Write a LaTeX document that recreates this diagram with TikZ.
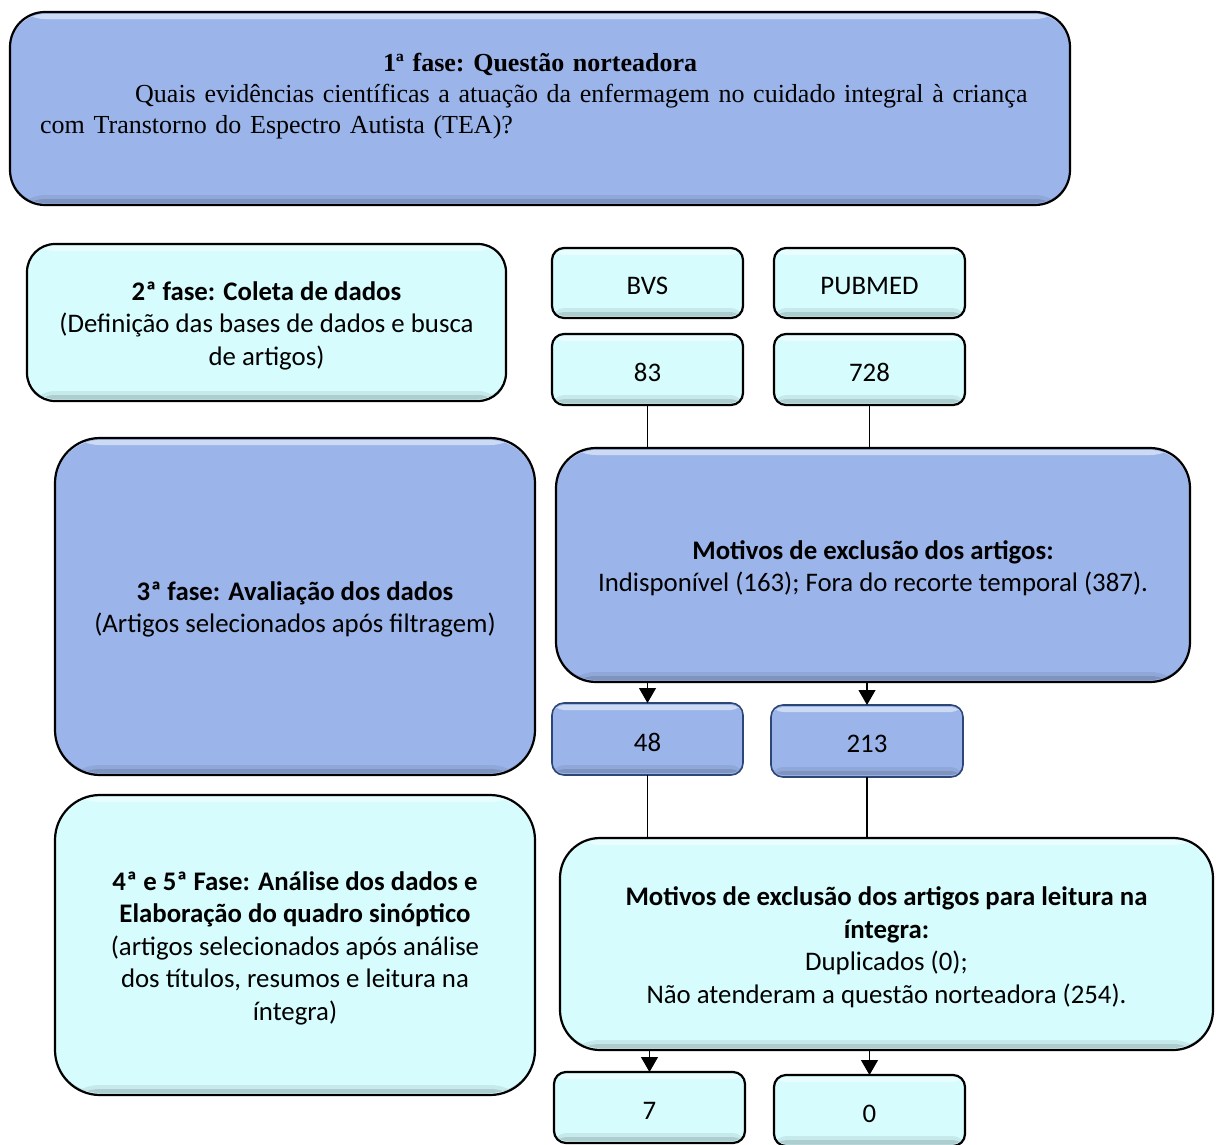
\documentclass[tikz,border=0pt]{standalone}
\usepackage{fontspec}
\setmainfont{Carlito}
\newfontfamily\serifff{Liberation Serif}
\usetikzlibrary{arrows.meta}
\definecolor{bluefill}{RGB}{155,181,234}
\definecolor{cyanfill}{RGB}{214,252,253}
\definecolor{darkblueline}{RGB}{45,70,120}
\tikzset{
  bevel/.style={path picture={
    \fill[white,opacity=.5] ([yshift=-2pt]path picture bounding box.north west) rectangle ([yshift=-7pt]path picture bounding box.north east);
    \fill[black,opacity=.07] ([yshift=2pt]path picture bounding box.south west) rectangle ([yshift=10pt]path picture bounding box.south east);
    \fill[black,opacity=.12] ([yshift=2pt]path picture bounding box.south west) rectangle ([yshift=6pt]path picture bounding box.south east);
  }},
  basebox/.style={draw=black, line width=2.2pt, inner sep=0pt, outer sep=0pt, bevel},
  bluebox/.style={basebox, fill=bluefill},
  cyanbox/.style={basebox, fill=cyanfill},
  numbluebox/.style={bluebox, draw=darkblueline, line width=1.6pt, rounded corners=12pt},
  lbl/.style={align=center, inner sep=0pt, yshift=-3pt,
     font=\fontsize{26.8}{32.5}\selectfont},
  conn/.style={line width=1.1pt, black},
  arr/.style={conn, -{Triangle[width=17pt,length=15pt]}},
}
\begin{document}
\begin{tikzpicture}[x=1pt,y=-1pt]
\useasboundingbox (0,0) rectangle (1216,1144);
% top box
\node[bluebox, rounded corners=35pt, minimum width=1060pt, minimum height=193pt] (top) at (540,108.5) {};
\node[anchor=north west, text width=1000pt, align=left, inner sep=0pt,
      font=\serifff\fontsize{26}{31}\selectfont\frenchspacing] (qtext) at (40,53)
  {\makebox[\linewidth][c]{\textbf{1ª fase: Questão norteadora}}\\
   \hspace*{95pt}Quais evidências científicas a atuação da enfermagem no cuidado integral à criança\\
   com Transtorno do Espectro Autista (TEA)?};
% phase 2
\node[cyanbox, rounded corners=28pt, minimum width=479pt, minimum height=157pt,
  label={[lbl, name=p2t]center:{\textbf{2ª fase: Coleta de dados}\\(Definição das bases de dados e busca\\de artigos)}}] (p2) at (266.5,322.5) {};
\node[cyanbox, rounded corners=12pt, minimum width=191pt, minimum height=70pt,
  label={[lbl, name=bvst]center:BVS}] (bvs) at (647.5,283) {};
\node[cyanbox, rounded corners=12pt, minimum width=191pt, minimum height=70pt,
  label={[lbl, name=pubt]center:PUBMED}] (pub) at (869.5,283) {};
\node[cyanbox, rounded corners=12pt, minimum width=191pt, minimum height=71pt,
  label={[lbl, name=n83t]center:83}] (n83) at (647.5,369.5) {};
\node[cyanbox, rounded corners=12pt, minimum width=191pt, minimum height=71pt,
  label={[lbl, name=n728t]center:728}] (n728) at (869.5,369.5) {};
% phase 3
\node[bluebox, rounded corners=45pt, minimum width=480pt, minimum height=337pt,
  label={[lbl, name=p3t]center:{\textbf{3ª fase: Avaliação dos dados}\\(Artigos selecionados após filtragem)}}] (p3) at (295,606.5) {};
\node[bluebox, rounded corners=40pt, minimum width=634pt, minimum height=234pt,
  label={[lbl, name=mot1t]center:{\textbf{Motivos de exclusão dos artigos:}\\Indisponível (163); Fora do recorte temporal (387).}}] (mot1) at (873,565) {};
\node[numbluebox, minimum width=191pt, minimum height=72pt,
  label={[lbl, name=n48t]center:48}] (n48) at (647.5,739) {};
\node[numbluebox, minimum width=192pt, minimum height=72pt,
  label={[lbl, name=n213t]center:213}] (n213) at (867,741) {};
% phase 4/5
\node[cyanbox, rounded corners=45pt, minimum width=480pt, minimum height=300pt,
  label={[lbl, name=p4t]center:{\textbf{4ª e 5ª Fase: Análise dos dados e}\\\textbf{Elaboração do quadro sinóptico}\\(artigos selecionados após análise\\dos títulos, resumos e leitura na\\íntegra)}}] (p4) at (295,945) {};
\node[cyanbox, rounded corners=40pt, minimum width=653pt, minimum height=212pt,
  label={[lbl, name=mot2t]center:{\textbf{Motivos de exclusão dos artigos para leitura na}\\\textbf{íntegra:}\\Duplicados (0);\\Não atenderam a questão norteadora (254).}}] (mot2) at (886.5,944) {};
\node[cyanbox, rounded corners=12pt, minimum width=191pt, minimum height=71pt,
  label={[lbl, name=n7t]center:7}] (n7) at (649.5,1107.5) {};
\node[cyanbox, rounded corners=12pt, minimum width=191pt, minimum height=71pt,
  label={[lbl, name=n0t]center:0}] (n0) at (869.5,1110.5) {};
% connectors
\draw[conn] (n83.south) -- (n83.south |- mot1.north);
\draw[conn] (n728.south) -- (n728.south |- mot1.north);
\draw[arr] (n48.north |- mot1.south) -- (n48.north);
\draw[arr] (n213.north |- mot1.south) -- (n213.north);
\draw[conn] (n48.south) -- (n48.south |- mot2.north);
\draw[conn] (n213.south) -- (n213.south |- mot2.north);
\draw[arr] (n7.north |- mot2.south) -- (n7.north);
\draw[arr] (n0.north |- mot2.south) -- (n0.north);
\end{tikzpicture}
\end{document}
